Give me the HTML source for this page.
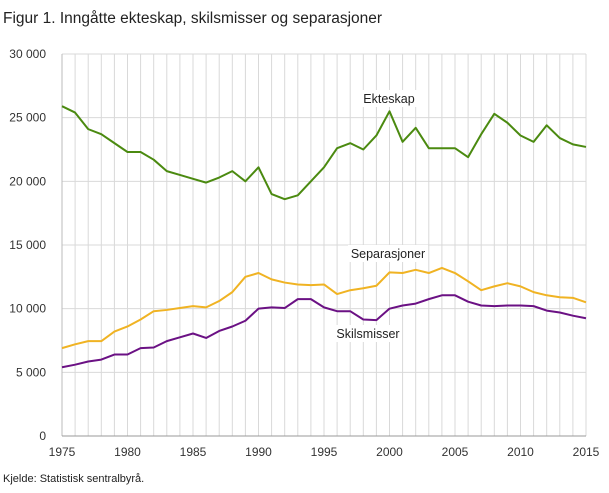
<!DOCTYPE html>
<html><head><meta charset="utf-8"><style>
body{margin:0;background:#fff;width:609px;height:488px;overflow:hidden;font-family:"Liberation Sans",sans-serif}
</style></head><body>
<svg id="s" width="609" height="488" xmlns="http://www.w3.org/2000/svg" font-family="Liberation Sans, sans-serif">
<text x="3" y="23" font-size="15.5" fill="#222">Figur 1. Inngåtte ekteskap, skilsmisser og separasjoner</text>
<g id="grid"></g>
<g id="lines"></g>
<text x="3" y="482" font-size="11" fill="#222">Kjelde: Statistisk sentralbyrå.</text>
</svg>
<script>
var NS="http://www.w3.org/2000/svg",s=document.getElementById('s'),g=document.getElementById('grid'),L=document.getElementById('lines');
function X(y){return 62+(y-1975)*524/40}
function Y(v){return 436-v*382/30}
function el(t,a,p,txt){var e=document.createElementNS(NS,t);for(var k in a)e.setAttribute(k,a[k]);if(txt!==undefined)e.textContent=txt;(p||s).appendChild(e);return e}
for(var y=1975;y<=2015;y++)el('line',{x1:X(y),x2:X(y),y1:Y(30),y2:436,stroke:'#d9d9d9','stroke-width':1},g);
for(var v=0;v<=30;v+=5){el('line',{x1:62,x2:586,y1:Y(v),y2:Y(v),stroke:'#d9d9d9','stroke-width':1},g);
el('text',{x:46,y:Y(v)+4,'font-size':12,fill:'#333','text-anchor':'end'},g,v==0?'0':v+' 000');}
el('line',{x1:62,x2:62,y1:Y(30),y2:436,stroke:'#bbb'},g);
el('line',{x1:62,x2:586,y1:436,y2:436,stroke:'#999'},g);
for(var y=1975;y<=2015;y+=5)el('text',{x:X(y),y:456,'font-size':12,fill:'#333','text-anchor':'middle'},g,y);
var E=[25.9,25.4,24.1,23.7,23.0,22.3,22.3,21.7,20.8,20.5,20.2,19.9,20.3,20.8,20.0,21.1,19.0,18.6,18.9,20.0,21.1,22.6,23.0,22.5,23.6,25.5,23.1,24.2,22.6,22.6,22.6,21.9,23.7,25.3,24.6,23.6,23.1,24.4,23.4,22.9,22.7];
var S=[6.9,7.2,7.45,7.45,8.2,8.6,9.15,9.8,9.9,10.05,10.2,10.1,10.6,11.3,12.5,12.8,12.3,12.05,11.9,11.85,11.9,11.15,11.45,11.6,11.8,12.85,12.8,13.05,12.8,13.2,12.8,12.15,11.45,11.75,12.0,11.75,11.3,11.05,10.9,10.85,10.5];
var K=[5.4,5.6,5.85,6.0,6.4,6.4,6.9,6.95,7.45,7.75,8.05,7.7,8.25,8.6,9.05,10.0,10.1,10.05,10.75,10.75,10.1,9.8,9.8,9.15,9.1,10.0,10.25,10.4,10.75,11.05,11.05,10.55,10.25,10.2,10.25,10.25,10.2,9.85,9.7,9.45,9.25];
function pl(d,c){el('polyline',{points:d.map(function(v,i){return X(1975+i)+','+Y(v)}).join(' '),fill:'none',stroke:c,'stroke-width':2,'stroke-linejoin':'round'},L)}
pl(E,'#4b8a10');pl(S,'#f0b323');pl(K,'#6b1184');
function lab(x,y,t,w){el('rect',{x:x-w/2,y:y-13,width:w,height:17,fill:'#fff'},L);el('text',{x:x,y:y,'font-size':12.5,fill:'#222','text-anchor':'middle'},L,t)}
lab(389,103,'Ekteskap',60);lab(388,258,'Separasjoner',80);lab(368,338,'Skilsmisser',68);
</script>
</body></html>
